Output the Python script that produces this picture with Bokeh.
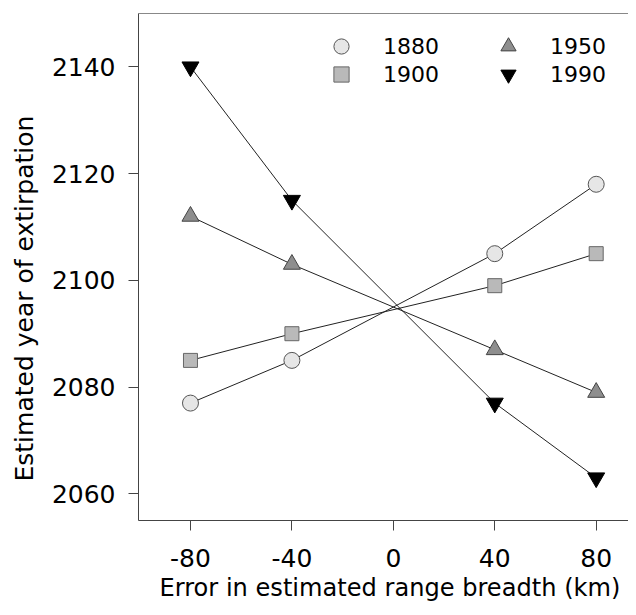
from bokeh.plotting import figure
from bokeh.models import Range1d, FixedTicker, Legend, LegendItem, LinearAxis, Title
from bokeh.embed import file_html
from bokeh.resources import INLINE

# ---- data ----
error_km = [-80, -40, 40, 80]
y1880 = [2077, 2085, 2105, 2118]
y1900 = [2085, 2090, 2099, 2105]
y1950 = [2112, 2103, 2087, 2079]
y1990 = [2140, 2115, 2077, 2063]
series_names = ["1880", "1900", "1950", "1990"]

x_ticks = [-80, -40, 0, 40, 80]
x_tick_labels = ["-80", "-40", "0", "40", "80"]
y_ticks = [2060, 2080, 2100, 2120, 2140]
y_tick_labels = ["2060", "2080", "2100", "2120", "2140"]

x_title = "Error in estimated range breadth (km)"
y_title = "Estimated year of extirpation"

FONT = "DejaVu Sans"

p = figure(width=628, height=607,
           x_range=Range1d(-100.5, 92.74), y_range=Range1d(2055, 2150),
           output_backend="svg", toolbar_location=None,
           min_border_left=138, min_border_right=0,
           min_border_top=13, min_border_bottom=87)

p.xgrid.visible = False
p.ygrid.visible = False
p.outline_line_color = None
p.background_fill_color = "white"
p.border_fill_color = "white"

for ax in (p.xaxis[0], p.yaxis[0]):
    ax.axis_line_color = "#444444"
    ax.axis_line_width = 1
    ax.major_tick_line_color = "#444444"
    ax.major_tick_in = 0
    ax.major_tick_out = 10
    ax.minor_tick_line_color = None
    ax.major_label_text_font = FONT
    ax.major_label_text_color = "black"
    ax.major_label_text_font_size = "25px"

p.xaxis.ticker = FixedTicker(ticks=x_ticks)
p.xaxis.major_label_overrides = dict(zip(x_ticks, x_tick_labels))
p.yaxis.ticker = FixedTicker(ticks=y_ticks)
p.yaxis.major_label_overrides = dict(zip(y_ticks, y_tick_labels))
p.xaxis.major_label_standoff = 18
p.yaxis.major_label_standoff = 13

# axis titles as side titles (allow off-centre placement like the original)
p.add_layout(Title(text=x_title, text_font=FONT, text_font_size="24.1px",
                   text_font_style="normal", text_color="black",
                   align="left", offset=21, standoff=5,
                   vertical_align="bottom"), "below")
p.add_layout(Title(text=y_title, text_font=FONT, text_font_size="25px",
                   text_font_style="normal", text_color="black",
                   align="left", offset=39, standoff=16,
                   vertical_align="top"), "left")

# top border line
top = LinearAxis(ticker=FixedTicker(ticks=[]), axis_line_color="#888888",
                 major_tick_line_color=None, minor_tick_line_color=None,
                 major_label_text_font_size="0px", major_label_standoff=0,
                 axis_label_standoff=0)
p.add_layout(top, "above")

styles = [
    ("circle", y1880, "#e6e6e6", "#555555", 16),
    ("square", y1900, "#b9b9b9", "#666666", 14),
    ("triangle", y1950, "#8e8e8e", "#444444", 17),
    ("inverted_triangle", y1990, "#000000", "#000000", 17),
]

renderers = []
for (marker, ys, fill, line, size) in styles:
    p.line(error_km, ys, line_color="#222222", line_width=1)
for (marker, ys, fill, line, size) in styles:
    r = p.scatter(error_km, ys, marker=marker, size=size,
                  fill_color=fill, line_color=line, line_width=1)
    renderers.append(r)

def make_legend(i, loc):
    return Legend(items=[LegendItem(label=series_names[i], renderers=[renderers[i]])],
                  location=loc, orientation="vertical",
                  glyph_width=38, glyph_height=38, spacing=0,
                  label_standoff=23, label_text_font=FONT,
                  label_text_font_size="22px", label_text_color="black",
                  padding=0, margin=0, border_line_color=None,
                  background_fill_alpha=0)

legend_locs = [(184, 455), (184, 427), (351, 455), (351, 427)]
for i, loc in enumerate(legend_locs):
    p.add_layout(make_legend(i, loc))

open("out.html", "w").write(file_html(p, INLINE))
